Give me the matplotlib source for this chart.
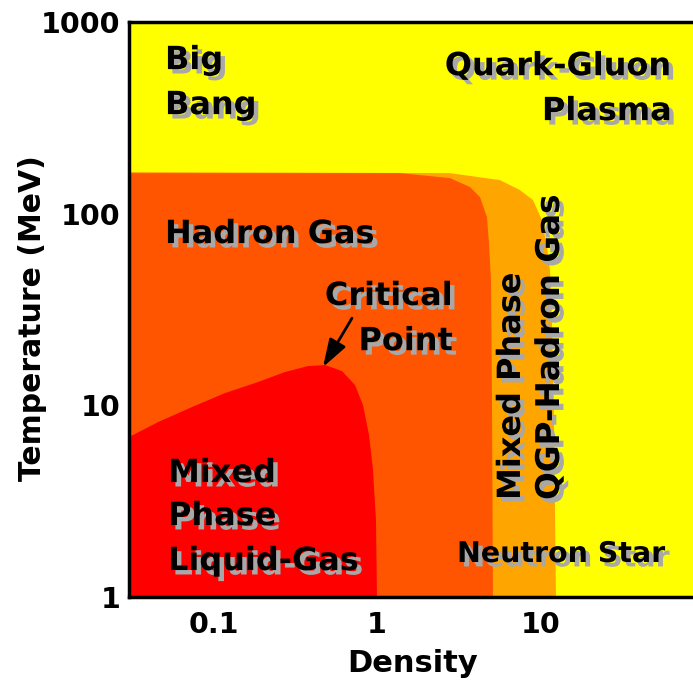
import matplotlib
matplotlib.use("Agg")
import matplotlib.pyplot as plt
import matplotlib.patheffects as pe

# axis range (density, temperature in MeV)
x_range = [0.0304, 85.7]
y_range = [1, 1000]

# QGP / hadron gas mixed phase boundary (light orange)
mix_qgp_x = [0.0304, 2.796, 5.65, 7.49, 9.00, 10.21, 10.96, 11.43, 11.76, 12.09, 12.44]
mix_qgp_y = [164.8, 162.8, 149.7, 132.8, 117.8, 92.6, 66.9, 50.8, 27.9, 8.38, 1.0]

# hadron gas boundary (dark orange)
hadron_x = [0.0304, 1.383, 2.796, 3.706, 4.266, 4.708, 4.842, 4.98, 5.05, 5.12]
hadron_y = [162.8, 162.8, 153.4, 137.7, 122.1, 96.0, 70.3, 45.0, 10.66, 1.0]

# liquid-gas mixed phase boundary (red)
liquid_x = [0.0304, 0.0458, 0.0739, 0.1175, 0.187, 0.2736, 0.378, 0.481, 0.611,
            0.734, 0.821, 0.894, 0.945, 0.986, 1.0]
liquid_y = [6.83, 8.18, 9.80, 11.59, 13.23, 14.92, 16.03, 16.23, 15.10,
            12.76, 10.04, 7.00, 4.60, 2.52, 1.0]

# critical point arrow: tail -> tip
crit_tail = (0.703, 28.5)
crit_tip = (0.4675, 15.85)

x_ticks = [0.1, 1, 10]
x_ticklabels = ["0.1", "1", "10"]
y_ticks = [1, 10, 100, 1000]
y_ticklabels = ["1", "10", "100", "1000"]

fig = plt.figure(figsize=(6.93, 6.86), dpi=100)
ax = fig.add_axes([0.1861, 0.1297, 0.8139, 0.8382])
ax.set_xscale("log")
ax.set_yscale("log")
ax.set_xlim(x_range)
ax.set_ylim(y_range)
ax.set_facecolor("#FFFF00")

def region(bx, by, color):
    xs = bx + [x_range[0]]
    ys = by + [y_range[0]]
    ax.fill(xs, ys, color=color, lw=0, zorder=1)

region(mix_qgp_x, mix_qgp_y, "#FFA500")
region(hadron_x, hadron_y, "#FF5500")
region(liquid_x, liquid_y, "#FF0000")

shadow = [pe.withSimplePatchShadow(offset=(3.2, -3.2), shadow_rgbFace="#a8a8a8", alpha=1.0)]

def label(x, y, s, size=23, **kw):
    ax.text(x, y, s, fontsize=size, fontweight="bold", family="DejaVu Sans",
            va="baseline", path_effects=shadow, zorder=5, **kw)

label(0.0505, 568, "Big")
label(0.0505, 330.8, "Bang")
label(63.7, 528, "Quark-Gluon", ha="right")
label(63.7, 307.7, "Plasma", ha="right")
label(0.0505, 70.3, "Hadron Gas")
label(2.916, 33.4, "Critical", ha="right")
label(2.916, 19.4, "Point", ha="right")
label(0.0527, 3.98, "Mixed")
label(0.0527, 2.375, "Phase")
label(0.0527, 1.383, "Liquid-Gas")
label(3.086, 1.523, "Neutron Star", size=20.5)
label(7.49, 3.21, "Mixed Phase", rotation=90, rotation_mode="anchor", ha="left")
label(12.98, 3.21, "QGP-Hadron Gas", size=23.5, rotation=90, rotation_mode="anchor", ha="left")

ax.annotate("", xy=crit_tip, xytext=crit_tail, zorder=6,
            arrowprops=dict(arrowstyle="-|>,head_length=0.85,head_width=0.28",
                            color="black", lw=2, mutation_scale=20, shrinkA=0, shrinkB=0))

ax.set_xticks(x_ticks)
ax.set_xticklabels(x_ticklabels)
ax.set_yticks(y_ticks)
ax.set_yticklabels(y_ticklabels)
ax.minorticks_off()
ax.tick_params(length=0, labelsize=20.5)
ax.tick_params(axis="x", pad=10)
ax.tick_params(axis="y", pad=6)
for t in ax.get_xticklabels() + ax.get_yticklabels():
    t.set_fontweight("bold")

ax.set_xlabel("Density", fontsize=22, fontweight="bold")
ax.set_ylabel("Temperature (MeV)", fontsize=21.5, fontweight="bold")
ax.xaxis.set_label_coords(0.5035, -0.09)
ax.yaxis.set_label_coords(-0.145, 0.485)

for side in ["left", "top", "bottom"]:
    ax.spines[side].set_linewidth(2.5)
    ax.spines[side].set_zorder(10)
ax.spines["right"].set_visible(False)

fig.savefig("out.png", dpi=100)
